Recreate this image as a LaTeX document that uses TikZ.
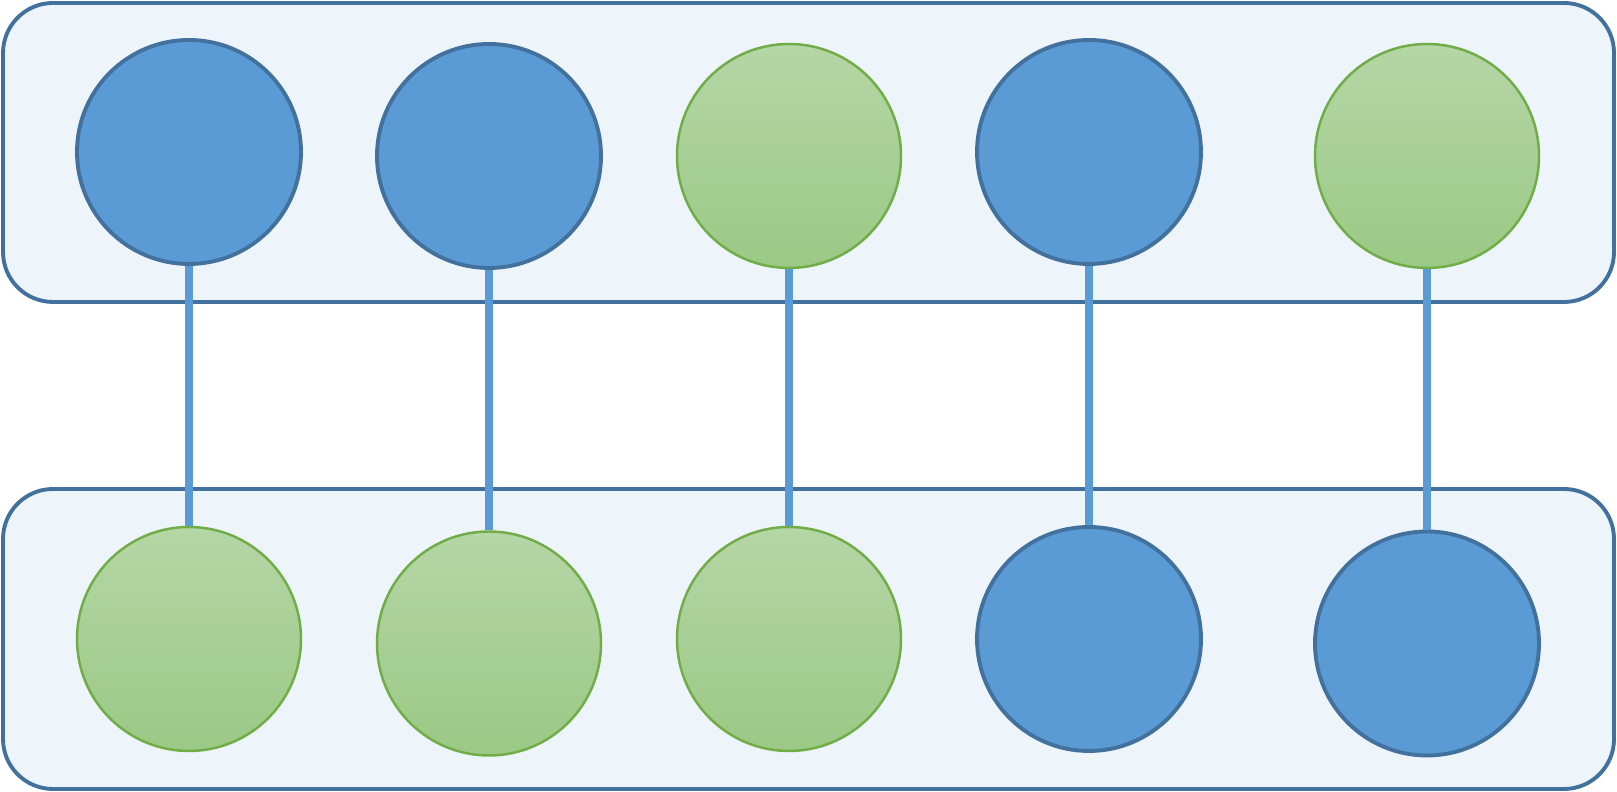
\documentclass[tikz,border=0pt]{standalone}
\definecolor{rowfill}{HTML}{EDF4FA}
\definecolor{rowline}{HTML}{41719C}
\definecolor{bluefill}{HTML}{5B9BD5}
\definecolor{greenline}{HTML}{70AD47}
\definecolor{greentop}{HTML}{B5D6A6}
\definecolor{greenbot}{HTML}{9BC985}
\begin{document}
\begin{tikzpicture}[
  row/.style={draw=rowline,fill=rowfill,line width=1.1pt,rounded corners=0.5cm},
  bluenode/.style={circle,draw=rowline,line width=1.1pt,fill=bluefill,minimum size=2.24cm,inner sep=0pt},
  greennode/.style={circle,draw=greenline,line width=0.7pt,top color=greentop,bottom color=greenbot,minimum size=2.24cm,inner sep=0pt},
  link/.style={draw=bluefill,line width=2.5pt}
]
\useasboundingbox (0,0) rectangle (16.17,7.92);
\draw[row] (0.03,4.90) rectangle (16.14,7.89);
\draw[row] (0.03,0.03) rectangle (16.14,3.03);

\node[bluenode] (t1) at (1.89,6.40) {};
\node[bluenode] (t2) at (4.89,6.36) {};
\node[greennode] (t3) at (7.89,6.36) {};
\node[bluenode] (t4) at (10.89,6.40) {};
\node[greennode] (t5) at (14.27,6.36) {};

\node[greennode] (b1) at (1.89,1.53) {};
\node[greennode] (b2) at (4.89,1.485) {};
\node[greennode] (b3) at (7.89,1.53) {};
\node[bluenode] (b4) at (10.89,1.53) {};
\node[bluenode] (b5) at (14.27,1.485) {};

\draw[link] (t1.south) -- (b1.north);
\draw[link] (t2.south) -- (b2.north);
\draw[link] (t3.south) -- (b3.north);
\draw[link] (t4.south) -- (b4.north);
\draw[link] (t5.south) -- (b5.north);
\end{tikzpicture}
\end{document}
